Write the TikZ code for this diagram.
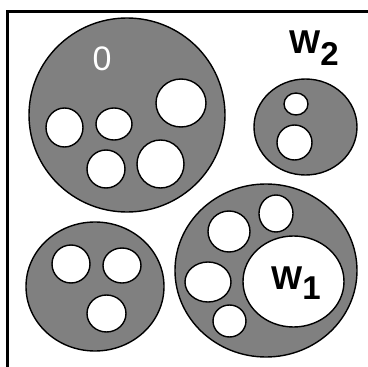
\documentclass[tikz,border=0pt]{standalone}
\usepackage{fontspec}
\setmainfont{Liberation Sans}
\definecolor{blobgray}{HTML}{808080}
\tikzset{
  blob/.style={draw=black, line width=1.4pt, fill=blobgray},
  hole/.style={draw=black, line width=1.4pt, fill=white},
  frameline/.style={draw=black, line width=2.6pt},
  wlabel/.style={font=\fontsize{33}{33}\selectfont\bfseries, text=black, inner sep=0pt},
  olabel/.style={font=\fontsize{34}{34}\selectfont, text=white, inner sep=0pt}
}
\begin{document}
\begin{tikzpicture}[x=1pt,y=-1pt]
\useasboundingbox (0,0) rectangle (368,367);
% frame (left and top)
\draw[frameline] (7.5,11.5) -- (368,11.5);
\draw[frameline] (7.5,10.2) -- (7.5,367);
% big circle O
\draw[blob] (127,115) ellipse [x radius=98pt, y radius=97pt];
\draw[hole] (64.5,127.5) ellipse [x radius=18.5pt, y radius=19.5pt];
\draw[hole] (114,124) ellipse [x radius=18pt, y radius=16pt];
\draw[hole] (106,169) ellipse [x radius=19pt, y radius=19pt];
\draw[hole] (160.5,164) ellipse [x radius=23.5pt, y radius=24pt];
\draw[hole] (181,103) ellipse [x radius=25pt, y radius=24pt];
\node[olabel] (O) at (102,59) {0};
% W2 circle
\draw[blob] (305.5,127) ellipse [x radius=51.5pt, y radius=48pt];
\draw[hole] (296,104) ellipse [x radius=12pt, y radius=11pt];
\draw[hole] (294.5,142.5) ellipse [x radius=17.5pt, y radius=17.5pt];
\node[wlabel, anchor=base west] (W2) at (289,53) {W\raisebox{-12pt}{2}};
% bottom-left circle
\draw[blob] (95,286.5) ellipse [x radius=69pt, y radius=64.5pt];
\draw[hole] (71,264) ellipse [x radius=19pt, y radius=19pt];
\draw[hole] (122,265.5) ellipse [x radius=19pt, y radius=17.5pt];
\draw[hole] (106.5,313.5) ellipse [x radius=19.5pt, y radius=18.5pt];
% W1 circle
\draw[blob] (266,270.5) ellipse [x radius=91pt, y radius=86.5pt];
\draw[hole] (293.5,281.5) ellipse [x radius=50.5pt, y radius=45.5pt];
\draw[hole] (229,231.5) ellipse [x radius=21pt, y radius=20.5pt];
\draw[hole] (276,213.5) ellipse [x radius=17pt, y radius=18.5pt];
\draw[hole] (208,282) ellipse [x radius=23pt, y radius=20pt];
\draw[hole] (229.5,321) ellipse [x radius=16.5pt, y radius=16pt];
\node[wlabel, anchor=base west] (W1) at (271,289) {W\raisebox{-10pt}{1}};
\end{tikzpicture}
\end{document}
